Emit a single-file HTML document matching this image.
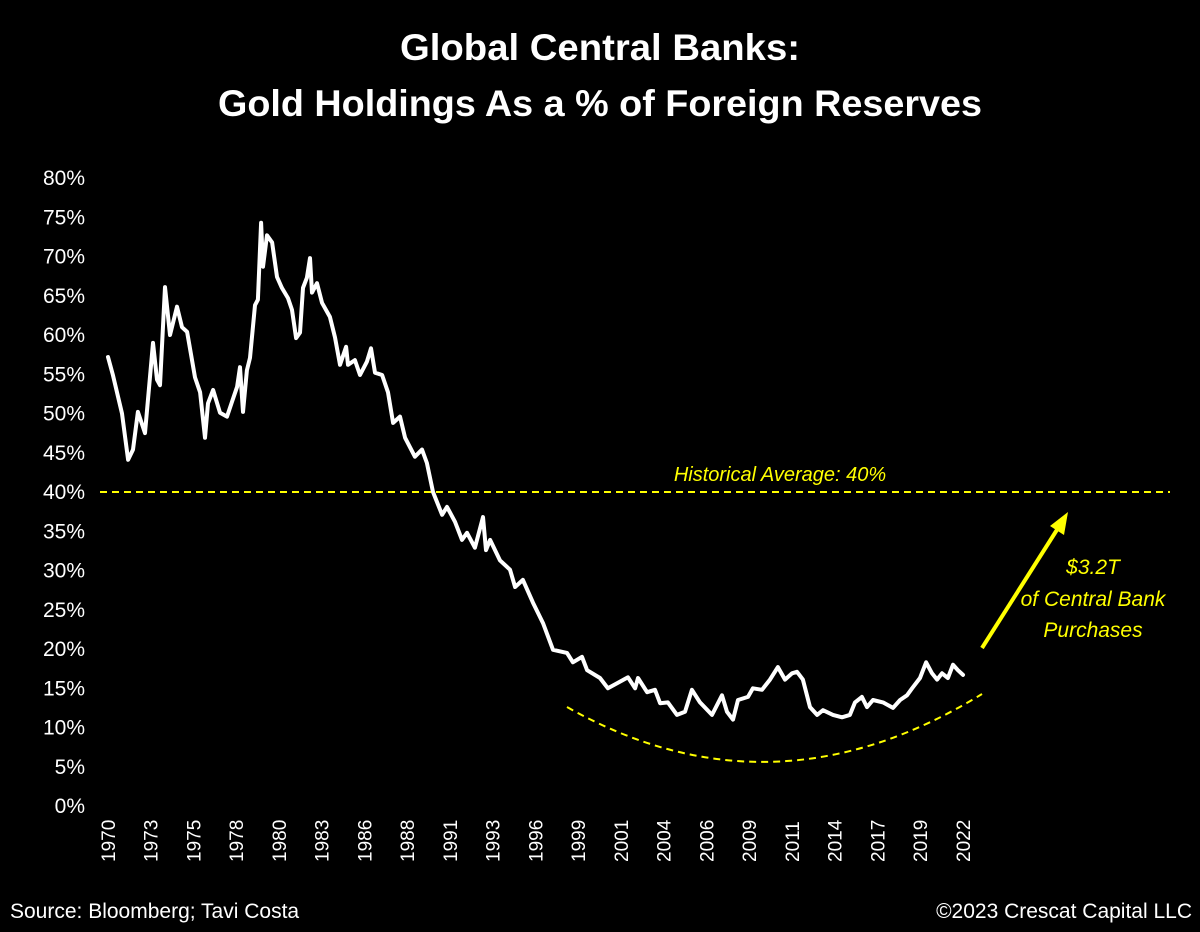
<!DOCTYPE html>
<html><head><meta charset="utf-8"><style>
html,body{margin:0;padding:0;background:#000;}
svg{display:block;font-family:"Liberation Sans",sans-serif;}
</style></head><body>
<svg id="chart" width="1200" height="932" viewBox="0 0 1200 932">
<rect width="1200" height="932" fill="#000"/>
<text x="600" y="60" text-anchor="middle" fill="#fff" font-size="37" font-weight="bold" textLength="400" lengthAdjust="spacingAndGlyphs">Global Central Banks:</text>
<text x="600" y="116" text-anchor="middle" fill="#fff" font-size="37" font-weight="bold" textLength="764" lengthAdjust="spacingAndGlyphs">Gold Holdings As a % of Foreign Reserves</text>
<g id="yaxis"></g>
<g id="xaxis"></g>
<line x1="100" y1="492" x2="1170" y2="492" stroke="#ffff00" stroke-width="2" stroke-dasharray="7,5"/>
<text x="780" y="481" text-anchor="middle" fill="#ffff00" font-size="20" font-style="italic">Historical Average: 40%</text>
<path d="M567,707 Q772,823 982,694" fill="none" stroke="#ffff00" stroke-width="2" stroke-dasharray="7,5"/>
<line x1="982" y1="648" x2="1060" y2="525" stroke="#ffff00" stroke-width="4"/>
<polygon points="1068,512 1050,526 1064,535" fill="#ffff00"/>
<text x="1093" y="574" text-anchor="middle" fill="#ffff00" font-size="21" font-style="italic">$3.2T</text>
<text x="1093" y="606" text-anchor="middle" fill="#ffff00" font-size="21" font-style="italic">of Central Bank</text>
<text x="1093" y="637" text-anchor="middle" fill="#ffff00" font-size="21" font-style="italic">Purchases</text>
<path id="series" fill="none" stroke="#fff" stroke-width="4" stroke-linejoin="round" stroke-linecap="round"/>
<text x="10" y="918" fill="#fff" font-size="21">Source: Bloomberg; Tavi Costa</text>
<text x="1192" y="918" text-anchor="end" fill="#fff" font-size="21">©2023 Crescat Capital LLC</text>
</svg>
<script>
const yTicks = [0,5,10,15,20,25,30,35,40,45,50,55,60,65,70,75,80];
const xTickLabels = ["1970","1973","1975","1978","1980","1983","1986","1988","1991","1993","1996","1999","2001","2004","2006","2009","2011","2014","2017","2019","2022"];
const years = [0,0.30,0.85,1.22,1.52,1.82,2.25,2.74,2.98,3.16,3.47,3.77,4.20,4.50,4.81,5.29,5.60,5.90,6.08,6.39,6.81,7.24,7.54,7.85,8.03,8.21,8.45,8.64,8.94,9.12,9.31,9.43,9.67,9.98,10.28,10.58,10.95,11.19,11.44,11.68,11.86,12.10,12.29,12.41,12.71,13.02,13.50,13.81,14.11,14.48,14.60,15.02,15.33,15.75,16.00,16.24,16.67,17.03,17.34,17.76,18.07,18.67,19.10,19.40,19.77,20.32,20.62,21.11,21.53,21.84,22.32,22.81,22.99,23.24,23.84,24.45,24.76,25.24,25.85,26.46,27.07,27.92,28.28,28.83,29.14,29.93,30.41,31.02,31.63,32.06,32.24,32.79,33.27,33.58,34.06,34.61,35.10,35.52,36.01,36.74,37.35,37.65,38.02,38.32,38.93,39.23,39.78,40.27,40.75,41.18,41.61,41.91,42.27,42.70,43.13,43.49,44.10,44.65,45.13,45.44,45.86,46.17,46.53,47.14,47.75,48.18,48.60,48.91,49.39,49.76,50.12,50.43,50.73,51.09,51.40,51.70,52.01].map(d => 1970 + d);
const values = [57.2,54.9,50.0,44.1,45.4,50.2,47.5,59.0,54.3,53.6,66.1,60.0,63.6,61.0,60.4,54.6,52.7,46.9,51.3,53.0,50.1,49.6,51.5,53.4,55.9,50.2,55.5,57.1,63.8,64.5,74.3,68.7,72.7,71.8,67.4,66.0,64.7,63.2,59.6,60.3,66.0,67.3,69.8,65.4,66.6,64.1,62.3,59.7,56.2,58.5,56.2,56.8,54.9,56.6,58.3,55.2,54.9,52.7,48.8,49.6,46.9,44.5,45.4,43.7,40.0,37.1,38.1,36.2,33.9,34.8,32.9,36.8,32.6,33.9,31.3,30.1,27.9,28.8,25.9,23.3,19.9,19.5,18.3,19.0,17.3,16.3,15.0,15.7,16.4,15.0,16.3,14.5,14.8,13.1,13.2,11.6,12.0,14.8,13.2,11.6,14.1,12.0,11.0,13.5,13.9,15.0,14.8,16.1,17.7,16.1,16.9,17.1,16.1,12.6,11.6,12.2,11.6,11.3,11.6,13.2,13.9,12.6,13.5,13.2,12.5,13.5,14.1,15.0,16.3,18.3,16.9,16.1,16.9,16.3,18.0,17.3,16.7];

const NS = "http://www.w3.org/2000/svg";
const xScale = yr => 108 + (yr - 1970) * 16.44;
const yScale = v => 806 - v * 7.85;

const yAxis = document.getElementById('yaxis');
yTicks.forEach(t => {
  const el = document.createElementNS(NS, 'text');
  el.setAttribute('x', 85);
  el.setAttribute('y', yScale(t) + 7);
  el.setAttribute('text-anchor', 'end');
  el.setAttribute('fill', '#fff');
  el.setAttribute('font-size', '21');
  el.textContent = t + '%';
  
  
  yAxis.appendChild(el);
});

const xAxis = document.getElementById('xaxis');
const step = (xScale(2022) - xScale(1970)) / (xTickLabels.length - 1);
xTickLabels.forEach((lab, i) => {
  const x = xScale(1970) + i * step;
  const el = document.createElementNS(NS, 'text');
  el.setAttribute('transform', 'translate(' + (x + 7) + ',862) rotate(-90)');
  el.setAttribute('fill', '#fff');
  el.setAttribute('font-size', '19');
  el.textContent = lab;
  
  
  xAxis.appendChild(el);
});

let d = '';
years.forEach((yr, i) => {
  d += (i ? 'L' : 'M') + xScale(yr).toFixed(1) + ',' + yScale(values[i]).toFixed(1);
});
document.getElementById('series').setAttribute('d', d);
</script>
</body></html>
